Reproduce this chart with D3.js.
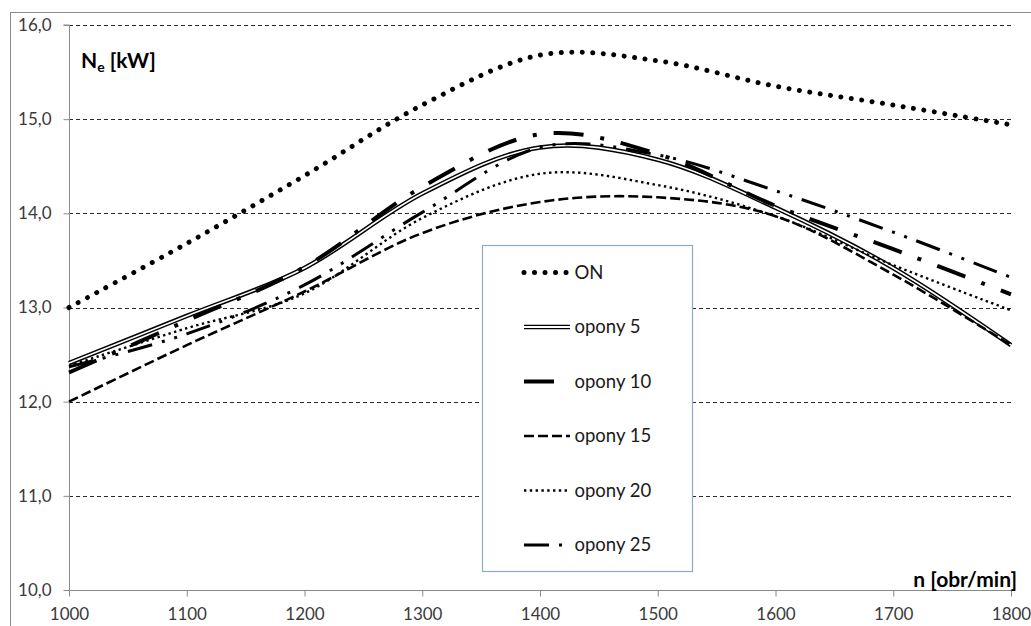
<!DOCTYPE html>
<html>
<head>
<meta charset="utf-8">
<script src="https://cdn.jsdelivr.net/npm/d3@7"></script>
<style>
  html, body { margin: 0; padding: 0; background: #ffffff; }
  svg { display: block; }
</style>
</head>
<body>
<svg id="chart" width="1031" height="626"></svg>
<script>
// ---- data ----
const rpm = [1000, 1100, 1200, 1300, 1400, 1500, 1600, 1700, 1800];
const seriesNames = ["ON", "opony 5", "opony 10", "opony 15", "opony 20", "opony 25"];
const valuesON       = [13.00, 13.68, 14.40, 15.15, 15.68, 15.62, 15.35, 15.15, 14.94];
const valuesOpony5   = [12.41, 12.91, 13.42, 14.21, 14.70, 14.57, 14.06, 13.42, 12.60];
const valuesOpony10  = [12.31, 12.86, 13.43, 14.28, 14.84, 14.63, 14.08, 13.62, 13.14];
const valuesOpony15  = [12.00, 12.60, 13.17, 13.79, 14.12, 14.17, 13.97, 13.35, 12.60];
const valuesOpony20  = [12.38, 12.78, 13.15, 13.95, 14.42, 14.30, 13.97, 13.45, 12.97];
const valuesOpony25  = [12.37, 12.72, 13.24, 14.01, 14.70, 14.62, 14.24, 13.80, 13.32];
const yTicks = [10, 11, 12, 13, 14, 15, 16];
const xTicks = [1000, 1100, 1200, 1300, 1400, 1500, 1600, 1700, 1800];
const yTitle = "N";
const yTitleSub = "e";
const yTitleRest = " [kW]";
const xTitle = "n [obr/min]";

const seriesValues = [valuesON, valuesOpony5, valuesOpony10, valuesOpony15, valuesOpony20, valuesOpony25];

// ---- styles (not data) ----
const styles = [
  { width: 5,   dash: "0.01,10.5", cap: "round" },          // ON
  { width: 4.6, dash: null, cap: "butt", double: true },     // opony 5
  { width: 4,   dash: "30,17,4,17", cap: "butt" },           // opony 10
  { width: 2.6, dash: "10,4", cap: "butt" },                 // opony 15
  { width: 2.4, dash: "2.4,3.4", cap: "butt" },              // opony 20
  { width: 3,   dash: "25,10,3,10,3,10", cap: "butt" }       // opony 25
];

const svg = d3.select("#chart");
const FONT = "Lato, 'Open Sans', 'Liberation Sans', sans-serif";

const mLeft = 69, mRight = 1011, mTop = 25, mBottom = 590;
const x = d3.scaleLinear().domain([1000, 1800]).range([mLeft, mRight]);
const y = d3.scaleLinear().domain([10, 16]).range([mBottom, mTop]);

// outer chart frame (partly off-canvas like the reference crop)
svg.append("rect")
  .attr("x", 10.5).attr("y", 12.5)
  .attr("width", 1100).attr("height", 700)
  .attr("fill", "none").attr("stroke", "#8a8a8a").attr("stroke-width", 1);

// gridlines
svg.append("g").selectAll("line")
  .data(yTicks.filter(d => d !== 10))
  .join("line")
  .attr("x1", mLeft).attr("x2", mRight)
  .attr("y1", d => Math.round(y(d)) + 0.5).attr("y2", d => Math.round(y(d)) + 0.5)
  .attr("stroke", "#2a2a2a").attr("stroke-width", 1)
  .attr("stroke-dasharray", "4,3");

// axes
const fmt = d => d3.format(".1f")(d).replace(".", ",");
const yAxis = svg.append("g")
  .attr("transform", `translate(${mLeft + 0.5},0)`)
  .call(d3.axisLeft(y).tickValues(yTicks).tickFormat(fmt).tickSize(6).tickPadding(12));
const xAxis = svg.append("g")
  .attr("transform", `translate(0,${mBottom + 0.5})`)
  .call(d3.axisBottom(x).tickValues(xTicks).tickFormat(d3.format("d")).tickSize(6).tickPadding(11));

[yAxis, xAxis].forEach(a => {
  a.select(".domain").attr("stroke", "#8a8a8a");
  a.selectAll(".tick line").attr("stroke", "#8a8a8a");
  a.selectAll(".tick text")
    .attr("fill", "#3a3a3a")
    .style("font-family", FONT)
    .style("font-size", "17px");
});
yAxis.select(".domain").attr("d", `M-6,${mTop}H0V${mBottom}`);
xAxis.select(".domain").attr("d", `M${mLeft},0H${mRight}`);

// series
const line = d3.line()
  .x((d, i) => x(rpm[i]))
  .y(d => y(d))
  .curve(d3.curveCardinal.tension(0));

const gLines = svg.append("g");
seriesValues.forEach((vals, k) => {
  const st = styles[k];
  const p = gLines.append("path")
    .datum(vals)
    .attr("d", line)
    .attr("fill", "none")
    .attr("stroke", "#000")
    .attr("stroke-width", st.width)
    .attr("stroke-linecap", st.cap)
    .attr("stroke-linejoin", "round");
  if (st.dash) p.attr("stroke-dasharray", st.dash);
  if (st.double) {
    gLines.append("path")
      .datum(vals)
      .attr("d", line)
      .attr("fill", "none")
      .attr("stroke", "#fff")
      .attr("stroke-width", 1.6);
  }
});

// axis titles
const yt = svg.append("text")
  .attr("x", 81).attr("y", 68)
  .style("font-family", FONT).style("font-weight", "bold").style("font-size", "21px")
  .attr("fill", "#000");
yt.append("tspan").text(yTitle);
yt.append("tspan").text(yTitleSub).attr("dy", 4).style("font-size", "14px");
yt.append("tspan").text(yTitleRest).attr("dy", -4);

svg.append("text")
  .attr("x", 1017).attr("y", 587)
  .attr("text-anchor", "end")
  .style("font-family", FONT).style("font-weight", "bold").style("font-size", "21px")
  .attr("fill", "#000")
  .text(xTitle);

// legend
const lg = svg.append("g");
lg.append("rect")
  .attr("x", 482.5).attr("y", 245.5)
  .attr("width", 210).attr("height", 326)
  .attr("fill", "#fff").attr("stroke", "#8ea8c8").attr("stroke-width", 1.2);

const rowY = i => 272.5 + i * 54.5;
seriesNames.forEach((name, i) => {
  const st = styles[i];
  const yy = rowY(i);
  const s = lg.append("line")
    .attr("x1", 524).attr("x2", 570)
    .attr("y1", yy).attr("y2", yy)
    .attr("stroke", "#000")
    .attr("stroke-width", st.width)
    .attr("stroke-linecap", st.cap);
  if (st.dash) s.attr("stroke-dasharray", st.dash);
  if (st.double) {
    lg.append("line")
      .attr("x1", 524).attr("x2", 570)
      .attr("y1", yy).attr("y2", yy)
      .attr("stroke", "#fff").attr("stroke-width", 1.8);
  }
  lg.append("text")
    .attr("x", 574.5).attr("y", yy)
    .attr("dy", "0.35em")
    .style("font-family", FONT).style("font-size", "18.5px")
    .attr("fill", "#1a1a1a")
    .text(name);
});
</script>
</body>
</html>
